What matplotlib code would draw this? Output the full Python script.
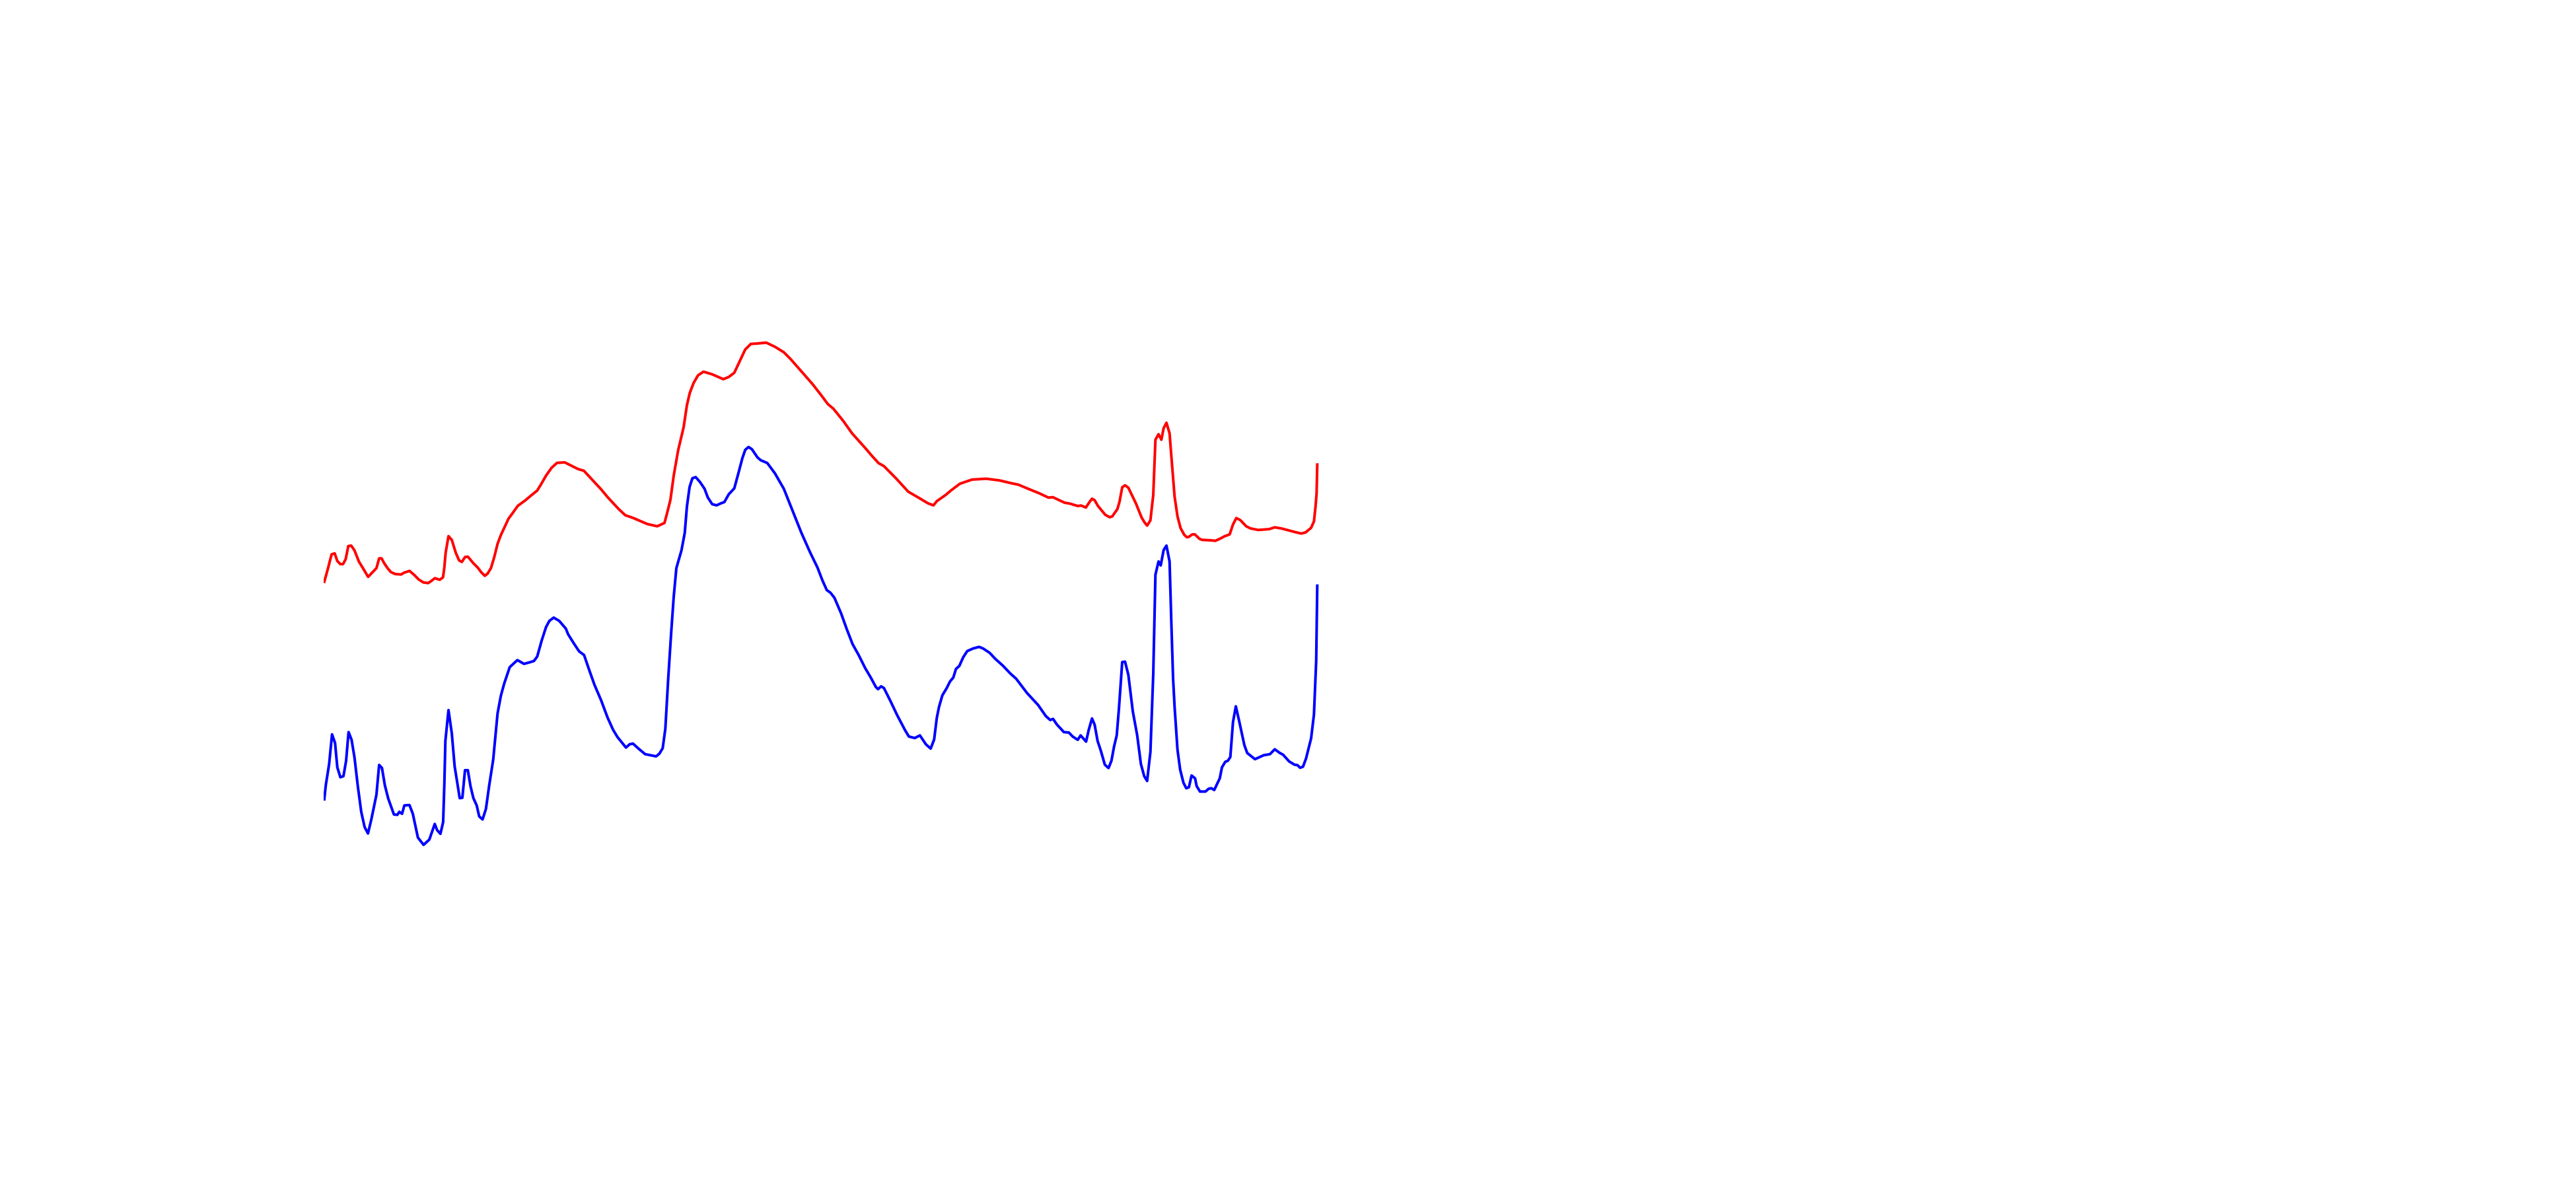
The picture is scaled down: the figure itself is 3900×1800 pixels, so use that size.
import numpy as np
import matplotlib
matplotlib.use('Agg')
import matplotlib.pyplot as plt

# Two offset spectra, arbitrary units
red_x = [1, 6.7, 12, 16.7, 20.7, 25.3, 29.3, 33.3, 37.3, 41.7, 46.7, 53.3, 59, 67.3, 80,
         84, 87.7, 91.7, 96.7, 101.7, 108.3, 117.3, 121.7, 130, 136.7, 144, 151, 158.3, 163.3,
         168.3, 175.7, 180.7, 182.7, 184.7, 189, 194, 200, 205, 209.3, 214, 218.3, 226.7, 233.3,
         238.3, 244, 248.3, 253.3, 258.3, 263.3, 268.3, 280, 285, 294, 305, 315, 323.3, 330,
         336.7, 345, 353.3, 365, 385, 394, 410, 420, 430, 446.7, 456.7, 468.3, 480, 490, 505,
         516, 520, 525, 530, 536.7, 545, 550, 554.3, 560, 566.7, 575, 588.3, 605, 613.3, 621.7,
         630, 638.3, 646.7, 656.7, 670, 683.3, 696.7, 706.7, 723.3, 740, 753.3, 763.3, 771.7,
         786.7, 800, 820, 830, 840, 848.3, 866.7, 885, 901.7, 915, 923.3, 928.3, 941.7, 950,
         963.3, 981.7, 1003.3, 1023.3, 1040, 1051.7, 1066.7, 1083.3, 1097.3, 1104, 1121.7,
         1129.3, 1141.7, 1146.7, 1154, 1159, 1163.3, 1167.3, 1172.3, 1183.3, 1190, 1194, 1201.7,
         1205, 1209, 1213.3, 1218.3, 1230, 1238.3, 1242.7, 1246.7, 1251.7, 1256, 1259.3, 1264,
         1268.3, 1271.7, 1276, 1280.7, 1284, 1288.3, 1292.7, 1297.3, 1302.7, 1306.7, 1310, 1315,
         1319, 1326, 1330, 1343.3, 1350, 1356.7, 1364.3, 1371.7, 1376.7, 1381.7, 1387.7, 1396.7,
         1403.3, 1415, 1431.7, 1440, 1450, 1470, 1480, 1486.7, 1495, 1499.3, 1501.7, 1503.3,
         1504.3]
red_y = [419.3, 440, 460.7, 462.3, 450.7, 446, 446, 453.3, 473.3, 474, 466.7, 450, 440.7,
         426.7, 440, 454.7, 454.7, 447.3, 440, 434, 431, 430.3, 433, 435.7, 430, 422.7, 418.3,
         417.3, 420.7, 424.7, 422.3, 426, 440.7, 463.3, 488.3, 482.7, 463.3, 451.7, 449.3, 456.7,
         457.3, 447.3, 440.7, 434, 428.3, 431.7, 440, 456.7, 476.7, 490, 515, 521.7, 534.3,
         542.3, 550.7, 557.3, 568.3, 580, 591.7, 599.3, 600, 590, 587.3, 570, 559.3, 547.3,
         529.3, 520, 516, 511, 506.7, 503.3, 508.3, 523.3, 543.3, 580, 618.3, 653.3, 686.7, 705,
         720, 731.7, 737.3, 733.3, 726, 729.3, 735.7, 753.3, 771, 779.3, 780, 781.3, 775, 766.7,
         756.7, 737.7, 718.7, 701.7, 688.3, 681.3, 662.7, 644, 621.7, 610, 599, 594.3, 575.7,
         555.7, 546, 538, 535, 541.3, 550.7, 557.7, 567.7, 574, 575.3, 572.7, 568.7, 566.3, 560,
         553.3, 546.7, 547.3, 539, 537.7, 534, 534.7, 531.7, 539.3, 545, 542.7, 534, 520.7, 517,
         518.3, 529.3, 540.7, 562.3, 565.3, 561.7, 537.3, 516.7, 509.3, 504.3, 512.3, 550.7,
         634.3, 642.7, 634.3, 651.7, 660, 644, 601.7, 548.3, 518.3, 500.7, 490.7, 486.7, 487.3,
         491, 491, 484.3, 482.7, 482, 481.3, 484.3, 488.3, 491, 506, 515.7, 512.7, 503.3, 500,
         497.7, 499, 501.7, 500, 494.7, 492.3, 494, 501, 510.7, 533.3, 553.3, 596.7]

blue_x = [1, 3.3, 8.3, 12.7, 17.3, 20.7, 25.3, 30, 34, 37.7, 42.3, 46.7, 51.7, 56.9, 62, 67.1,
          72.2, 79.9, 84, 88.3, 92.7, 97.8, 106.4, 111.5, 114.6, 118.7, 122.2, 129.9, 135, 142.7,
          151.3, 160, 168.2, 171.7, 176.8, 180.9, 182.7, 184.3, 189, 194, 198.3, 206, 210, 214,
          218.3, 222.3, 226.7, 231.7, 235.5, 240.6, 245.7, 250.5, 256.7, 263.3, 268.3, 273.3,
          281.7, 293.3, 303.3, 311.7, 318.3, 323.3, 330, 336.7, 341.7, 348.3, 356.7, 366.7, 370,
          378.3, 386.7, 394.3, 401.7, 410, 420, 430, 438.3, 445, 457.7, 463.3, 468.3, 476.7,
          486.7, 495, 503.3, 508.3, 513.3, 517.3, 521.7, 526, 530, 534, 541.7, 546.7, 550, 554,
          558.3, 563.3, 570, 576.7, 581.7, 588.3, 595, 600.7, 606.7, 613.3, 621.7, 628.3, 634,
          638.3, 643.3, 648.3, 656.7, 661.7, 671.7, 683.3, 696.7, 710, 723.3, 736.7, 747.7, 755,
          761.7, 767.3, 773.3, 778.3, 783.3, 791.7, 800.7, 810, 820, 828.3, 836, 839.3, 844,
          848.3, 858.3, 868.3, 880, 886, 895, 902.7, 911.7, 919, 924.3, 928.3, 931.7, 936.7,
          943.3, 948.3, 953.3, 957.3, 962.3, 968.3, 974.3, 983.3, 992.3, 998.3, 1008.3, 1016.7,
          1028.3, 1040, 1048.3, 1065, 1081.7, 1093.3, 1100, 1104.3, 1110, 1120.7, 1128.3, 1134,
          1141.7, 1146, 1154.3, 1158.3, 1163.3, 1167.3, 1171.7, 1176.7, 1182.7, 1188.3, 1192.7,
          1196.7, 1200.7, 1204, 1209, 1213.3, 1218.3, 1225, 1231.7, 1237.3, 1242.3, 1246.7,
          1251.7, 1256, 1259.3, 1264, 1267.3, 1271.7, 1276, 1280.7, 1283.3, 1286, 1288.3, 1292.7,
          1296.7, 1301.7, 1306, 1310, 1314, 1319.3, 1321.7, 1326.7, 1335, 1340, 1344, 1348.3,
          1356.7, 1360, 1365, 1369, 1372.7, 1376.7, 1381, 1385.7, 1394, 1398.3, 1410, 1423.3,
          1432.7, 1440, 1446.7, 1452.7, 1461.7, 1470, 1474.3, 1478.3, 1482.7, 1487.3, 1495,
          1499.3, 1502.7, 1504.3]
blue_y = [90, 111.7, 143.3, 188.3, 175, 138.3, 123.3, 125, 148.3, 191.7, 180, 153.3, 110, 71,
          48, 38.2, 59.5, 96.8, 142, 137.3, 111, 91, 67, 66.4, 71, 68, 80.7, 81.3, 68, 32, 21, 29,
          52.6, 43.4, 37.7, 55.4, 111.7, 178.3, 225, 190, 140, 91.7, 92.3, 134, 134, 110, 91.7,
          80.7, 64, 59.5, 75.5, 110, 150, 220, 246.7, 265, 290, 300.7, 295, 297.3, 299.3, 306,
          330, 350.7, 360, 365, 360, 348.3, 340, 326.7, 314, 308.3, 286.7, 263.3, 240, 213.3, 195,
          184, 168.3, 173.3, 174.3, 166.7, 158.3, 156.7, 155, 159, 167.3, 196.7, 273.3, 340,
          396.7, 440, 466.7, 493.3, 533.3, 562.7, 576, 577.7, 570, 560, 546.7, 536.7, 535, 537.7,
          540, 551.7, 560.7, 585, 606.7, 619, 623.3, 620, 607.7, 603.3, 599, 583.3, 560, 526.7,
          493.3, 463.3, 440.7, 421.7, 406.7, 402.7, 395, 383.3, 371.7, 348.3, 325, 308.3, 288.3,
          274.3, 260, 256.7, 261, 258.3, 238.3, 217.3, 195, 185, 182.7, 186.7, 173.3, 166.7,
          180.7, 213.3, 230, 247.3, 258.3, 268.3, 274.3, 287.3, 291.7, 305, 314.3, 318.3, 320.7,
          318.3, 311.7, 302.7, 292.3, 280, 272.7, 250.7, 232.7, 216, 210, 211.7, 203.3, 191.7,
          191, 185, 180, 186.7, 177.3, 195, 212.3, 202.7, 178.3, 163.3, 142.3, 137.3, 148.3, 170,
          186.7, 226.7, 297.7, 298.3, 278.3, 223.3, 186.7, 143.3, 125, 117.7, 161.7, 280, 430,
          450, 444, 467.3, 474, 450, 360, 273.3, 230, 165, 135, 115, 106.7, 108.3, 126, 121.7,
          110, 101.7, 101.7, 106, 106.7, 104, 121.7, 138.3, 146.7, 148.3, 154, 206.7, 230.7, 210,
          171.7, 160, 150.7, 156.7, 158.3, 165.7, 160.7, 157.3, 147.3, 142.3, 141.7, 137.7, 139.3,
          151.7, 182.3, 218.3, 300, 413.3]

fig = plt.figure(figsize=(39, 18), dpi=100)
fig.patch.set_facecolor('white')
ax = fig.add_axes([490 / 3900, 500 / 1800, 1510 / 3900, 800 / 1800])

ax.plot(red_x, red_y, color='red', linewidth=2.9, solid_joinstyle='round')
ax.plot(blue_x, blue_y, color='blue', linewidth=2.9, solid_joinstyle='round')

ax.set_xlim(0, 1510)
ax.set_ylim(0, 800)
ax.axis('off')

fig.savefig('out.png', dpi=100, facecolor='white')
